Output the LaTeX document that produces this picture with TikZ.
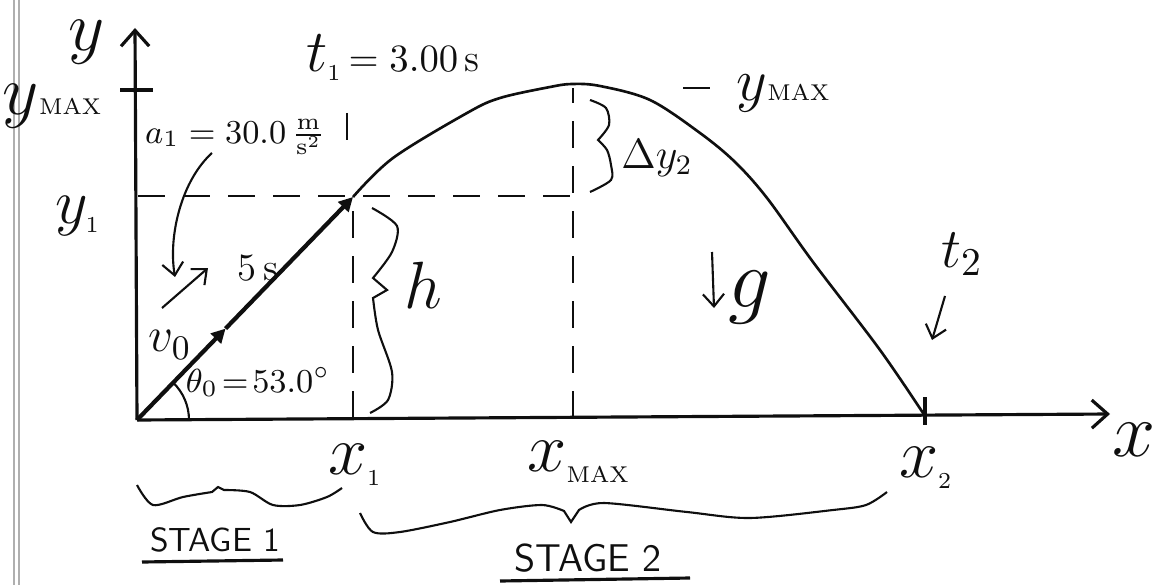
\documentclass[tikz,border=0pt]{standalone}
\usepackage{fix-cm}
\usepackage{xcolor}
\usepackage{amsmath}
\usepackage{tikz}
\usetikzlibrary{arrows.meta, calc}
\definecolor{myink}{RGB}{15,15,15}
\definecolor{myscan}{RGB}{175,175,175}
\newcommand{\fs}[1]{\fontsize{#1}{#1}\selectfont}
\newcommand{\sm}[1]{\mbox{\fontsize{6.5}{6.5}\selectfont #1}}
\tikzset{
  axis/.style={line width=0.9pt, color=myink,
    -{Straight Barb[length=4.5pt, width=8pt]}},
  axisline/.style={line width=0.9pt, color=myink},
  dashline/.style={line width=0.6pt, color=myink,
    dash pattern=on 0.27cm off 0.18cm},
  curve/.style={line width=0.75pt, color=myink},
  vec/.style={line width=1.2pt, color=myink,
    -{Triangle[length=4pt, width=4pt]}},
  note/.style={line width=0.6pt, color=myink,
    -{Straight Barb[length=3.5pt, width=6pt]}},
  brace/.style={line width=0.6pt, color=myink},
  thinline/.style={line width=0.6pt, color=myink},
  uline/.style={line width=0.9pt, color=myink},
  scanline/.style={line width=0.3pt, color=myscan},
  lbl/.style={text=myink, inner sep=0pt}
}
\begin{document}
\begin{tikzpicture}[x=0.01cm, y=-0.01cm]
  \useasboundingbox (0,0) rectangle (1152,585);

  % Scan edge
  \draw[scanline] (14,0) -- (14,585);
  \draw[scanline] (19,0) -- (19,585);

  % Axes
  \coordinate (O) at (137,420);
  \draw[axis] (O) -- (135,28);
  \draw[axis] (O) -- (1110,414);
  \draw[axisline] (120,90) -- (153,90);
  \draw[axisline] (925,397) -- (925,425);

  % Guide lines
  \coordinate (P) at (353,197);
  \draw[dashline] (138,196) -- (573,196);
  \draw[dashline] (353,418) -- (P);
  \draw[dashline] (347,113) -- (347,140);
  \draw[dashline] (573,418) -- (573,88);

  % Trajectory
  \draw[curve] plot[smooth, tension=0.55] coordinates {(P) (393,158) (467,113)
    (500,98) (550,87) (572,84) (600,86) (650,100) (700,133) (735,162)
    (767,198) (813,262) (880,350) (925,416)};

  % Launch vector
  \coordinate (M) at ($(O)!0.41!(P)$);
  \draw[vec] (O) -- (M);
  \draw[vec] (M) -- (P);
  \draw[thinline] ($(O)+(52,0)$) arc[start angle=0, end angle=46, radius=0.52cm];

  % Braces
  \draw[brace] plot[smooth] coordinates {(372,208) (397,226) (392,252) (373,278)}
    -- (387,290) -- plot[smooth] coordinates {(373,298) (378,330) (392,372) (388,400) (370,413)};
  \draw[brace] plot[smooth] coordinates {(590,100) (606,108) (609,125) (598,140)}
    -- plot[smooth] coordinates {(598,140) (607,150) (611,165) (611,180) (590,192)};
  \draw[brace] plot[smooth] coordinates {(137,485) (153,505) (183,497) (212,492)}
    -- (218,487) -- plot[smooth] coordinates {(224,490) (250,492) (273,505) (300,505) (327,497) (342,488)};
  \draw[brace] plot[smooth] coordinates {(360,513) (373,532) (400,532) (450,522)
    (500,510) (542,505) (564,511)} -- (571,522)
    -- plot[smooth] coordinates {(579,510) (604,503) (687,512) (750,518) (833,510) (866,505) (887,492)};

  % Labels
  \node[lbl, font=\fs{20}] (ylab) at (87,42) {$y$};
  \node[lbl, font=\fs{20}] (ymaxlab) at (52,106) {$y$\sm{MAX}};
  \node[lbl, font=\fs{18}] (y1lab) at (78,216) {$y_{\sm{1}}$};
  \node[lbl] (t1lab) at (393,58) {\fs{17}$t_{\sm{1}}$\fs{11}$\,=3.00$\,s};
  \node[lbl, font=\fs{9.5}] (a1lab) at (235,137) {$a_1=30.0\,\frac{\mathrm{m}}{\mathrm{s}^2}$};
  \node[lbl, font=\fs{11}] (fivelab) at (258,268) {5\,s};
  \node[lbl, font=\fs{14}] (v0lab) at (170,345) {$v_0$};
  \node[lbl, font=\fs{9.5}] (thetalab) at (258,382) {$\theta_0\!=\!53.0^\circ$};
  \node[lbl, font=\fs{19}] (hlab) at (423,285) {$h$};
  \node[lbl, font=\fs{12}] (dylab) at (657,158) {$\Delta y_2$};
  \draw[thinline] (683,88) -- (710,88);
  \node[lbl, font=\fs{17}] (ymaxpk) at (783,93) {$y$\sm{MAX}};
  \node[lbl, font=\fs{24}] (glab) at (750,298) {$g$};
  \node[lbl, font=\fs{16}] (t2lab) at (962,254) {$t_2$};
  \node[lbl, font=\fs{20}] (x1lab) at (355,465) {$x_{\sm{1}}$};
  \node[lbl, font=\fs{20}] (xmaxlab) at (579,462) {$x_{\sm{MAX}}$};
  \node[lbl, font=\fs{20}] (x2lab) at (926,468) {$x_{\sm{2}}$};
  \node[lbl, font=\fs{22}] (xlab) at (1134,440) {$x$};
  \node[lbl, font=\fs{9.5}\sffamily] (stage1) at (215,540) {STAGE 1};
  \node[lbl, font=\fs{11}\sffamily] (stage2) at (588,558) {STAGE 2};
  \draw[uline] (142,562) -- (283,560);
  \draw[uline] (500,581) -- (690,578);

  % Notes
  \coordinate (a1tail) at (212,153);
  \coordinate (a1tip) at (175,277);
  \draw[note] (a1tail) .. controls (182,180) and (168,235) .. (a1tip);
  \coordinate (dirtail) at (162,308);
  \coordinate (dirtip) at (208,268);
  \draw[note] (dirtail) -- (dirtip);
  \coordinate (gtail) at (712,252);
  \coordinate (gtip) at (714,308);
  \draw[note] (gtail) -- (gtip);
  \coordinate (t2tail) at (945,296);
  \coordinate (t2tip) at (932,340);
  \draw[note] (t2tail) -- (t2tip);
\end{tikzpicture}
\end{document}
